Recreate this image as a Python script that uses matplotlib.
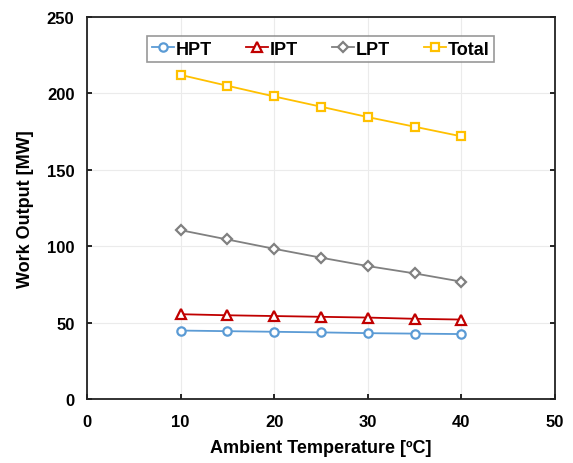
import matplotlib
matplotlib.use("Agg")
import matplotlib.pyplot as plt

plt.rcParams['font.family'] = ['Liberation Sans', 'DejaVu Sans']
plt.rcParams['font.weight'] = 'bold'

temperature = [10, 15, 20, 25, 30, 35, 40]
hpt = [44.8, 44.4, 44.0, 43.6, 43.1, 42.8, 42.5]
ipt = [55.5, 54.8, 54.3, 53.8, 53.3, 52.5, 52.0]
lpt = [110.5, 104.4, 98.3, 92.5, 87.0, 82.2, 76.8]
total = [212.1, 205.0, 198.0, 191.3, 184.5, 178.2, 171.9]

series = [
    ("HPT", hpt, "#5B9BD5", "o"),
    ("IPT", ipt, "#C00000", "^"),
    ("LPT", lpt, "#808080", "D"),
    ("Total", total, "#FFC000", "s"),
]

fig = plt.figure(figsize=(5.73, 4.64), dpi=100)
ax = fig.add_axes([0.1518, 0.1379, 0.8168, 0.8233])

for name, vals, color, marker in series:
    ms = {"o": 6.0, "^": 6.5, "D": 5.0, "s": 5.8}[marker]
    ax.plot(temperature, vals, color=color, lw=1.3, marker=marker,
            markersize=ms, markerfacecolor="white", markeredgecolor=color,
            markeredgewidth=1.6, label=name)

ax.set_xlim(0, 50)
ax.set_ylim(0, 250)
ax.set_xticks(range(0, 51, 10))
ax.set_yticks(range(0, 251, 50))
ax.grid(True, color="#EBEBEB", lw=0.8)
ax.set_axisbelow(True)
ax.tick_params(direction="in", length=3.5, width=1.2, labelsize=12,
               top=False, right=True)
ax.tick_params(axis="x", pad=11)
ax.tick_params(axis="y", pad=9)
for lbl in ax.get_xticklabels() + ax.get_yticklabels():
    lbl.set_fontweight("bold")
for sp in ax.spines.values():
    sp.set_linewidth(1.3)
    sp.set_color("#222222")

ax.set_xlabel("Ambient Temperature [ºC]", fontsize=13, fontweight="bold", labelpad=7)
ax.set_ylabel("Work Output [MW]", fontsize=13, fontweight="bold", labelpad=9)

leg = ax.legend(loc="upper center", bbox_to_anchor=(0.499, 0.950), ncol=4,
                fontsize=13, frameon=True, fancybox=False, handlelength=1.2,
                handletextpad=0.1, columnspacing=1.9, borderpad=0.25,
                borderaxespad=0)
leg.get_frame().set_edgecolor("#7F7F7F")
leg.get_frame().set_linewidth(1.2)
for t in leg.get_texts():
    t.set_fontweight("bold")

fig.savefig("out.png", dpi=100)
